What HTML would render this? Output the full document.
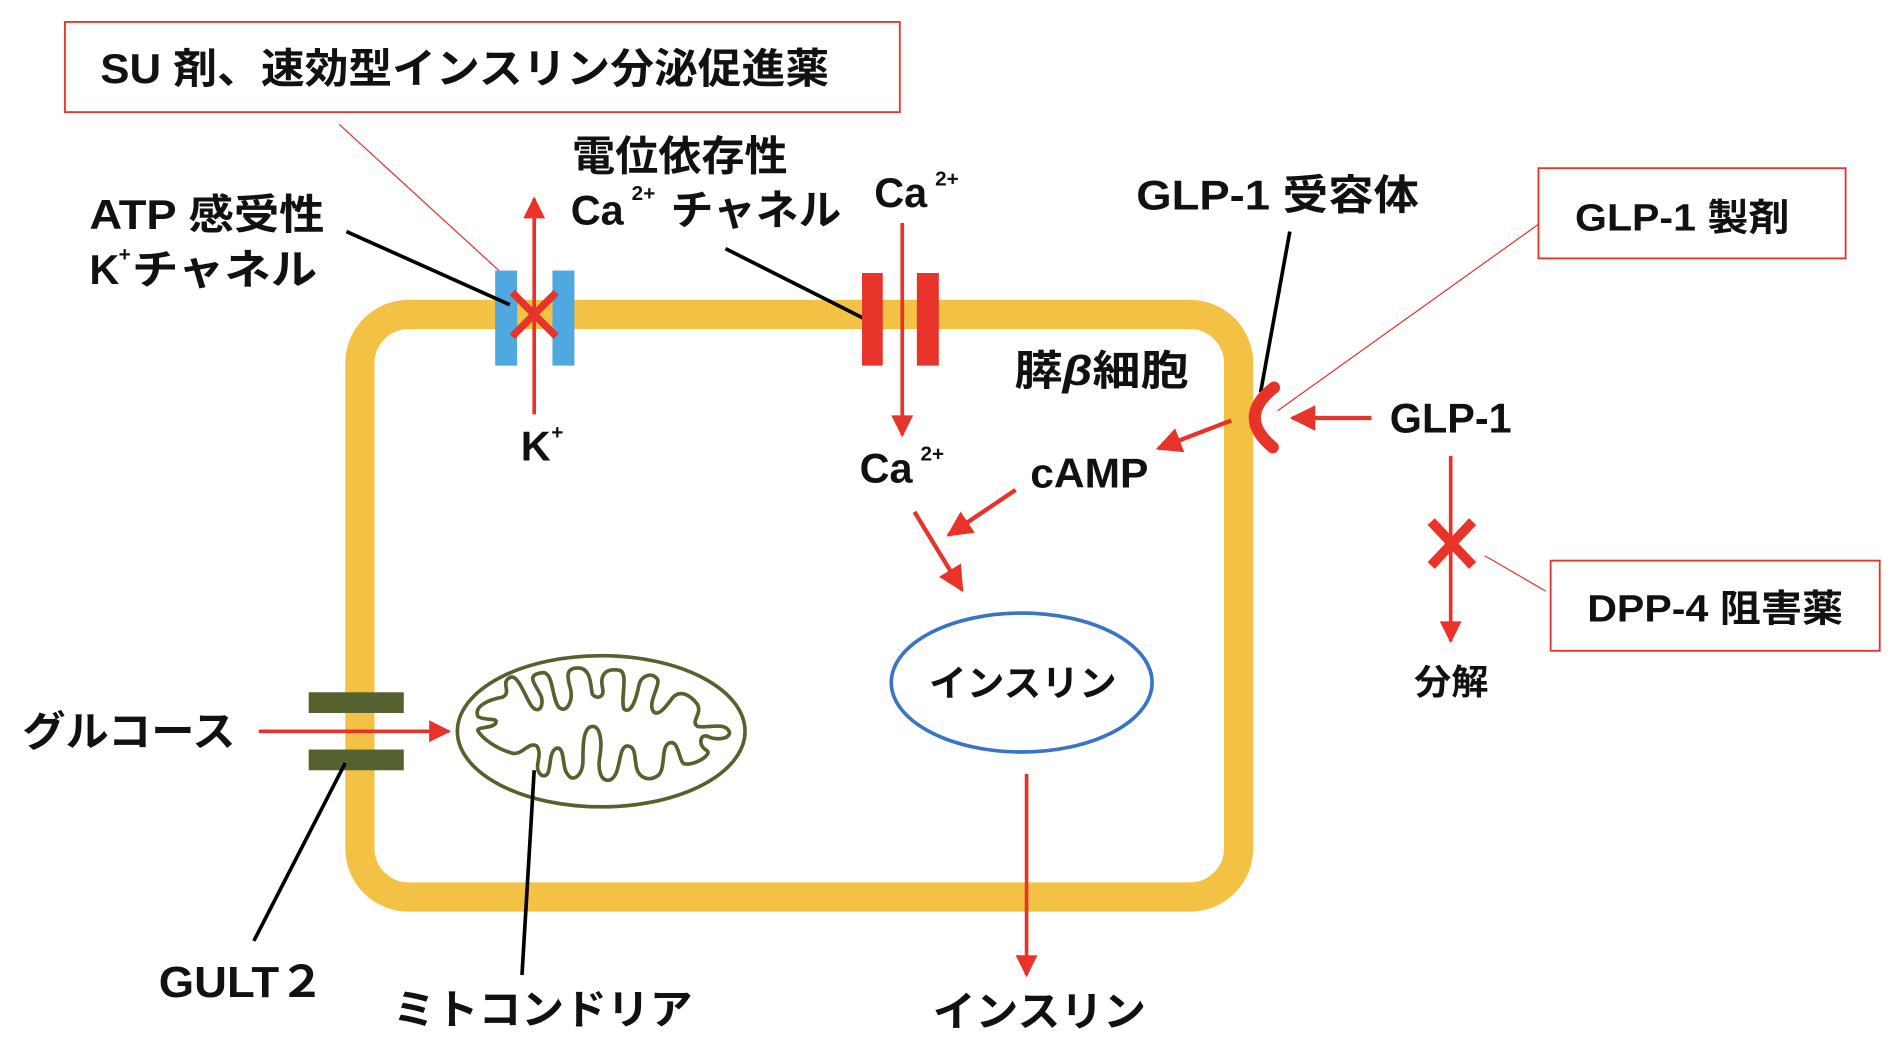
<!DOCTYPE html>
<html><head><meta charset="utf-8"><style>
html,body{margin:0;padding:0;background:#fff;}
svg{display:block;}
text{font-family:"Liberation Sans","Noto Sans CJK JP",sans-serif;font-weight:bold;fill:#111;}
</style></head><body>
<svg width="1902" height="1064" viewBox="0 0 1560 873" xmlns="http://www.w3.org/2000/svg">
<defs>
<marker id="ah" viewBox="0 0 10 10" refX="9" refY="5" markerWidth="7.5" markerHeight="6" orient="auto" markerUnits="strokeWidth">
<path d="M0,0 L10,5 L0,10 z" fill="#E8332A"/></marker>
</defs>
<!-- cell -->
<rect x="295" y="258" width="721" height="478" rx="40" fill="none" stroke="#F3C143" stroke-width="24"/>
<!-- SU box -->
<rect x="53" y="18" width="685" height="74" fill="none" stroke="#E8332A" stroke-width="1.5"/>
<text x="82" y="68" font-size="34" textLength="598" lengthAdjust="spacingAndGlyphs">SU 剤、速効型インスリン分泌促進薬</text>
<line x1="278" y1="102" x2="420" y2="232" stroke="#E8332A" stroke-width="1"/>
<!-- K channel -->
<rect x="406" y="222" width="18" height="78" fill="#4FA8E0"/>
<rect x="453" y="222" width="18" height="78" fill="#4FA8E0"/>
<line x1="438" y1="340" x2="438" y2="163" stroke="#E8332A" stroke-width="3" marker-end="url(#ah)"/>
<line x1="420" y1="240" x2="456" y2="276" stroke="#E8332A" stroke-width="6"/>
<line x1="456" y1="240" x2="420" y2="276" stroke="#E8332A" stroke-width="6"/>
<line x1="284" y1="190" x2="418" y2="250" stroke="#000" stroke-width="3"/>
<text x="73" y="188" font-size="34" textLength="193" lengthAdjust="spacingAndGlyphs">ATP 感受性</text>
<text x="73" y="233" font-size="34">K</text><text x="97" y="214" font-size="17">+</text><text x="108" y="233" font-size="34" textLength="152" lengthAdjust="spacingAndGlyphs">チャネル</text>
<text x="427" y="378" font-size="34">K</text><text x="452" y="360" font-size="17">+</text>
<!-- Ca channel -->
<text x="469" y="140" font-size="34" textLength="177" lengthAdjust="spacingAndGlyphs">電位依存性</text>
<text x="468" y="184" font-size="34">Ca</text><text x="518" y="164" font-size="17">2+</text><text x="550" y="184" font-size="34" textLength="140" lengthAdjust="spacingAndGlyphs">チャネル</text>
<line x1="595" y1="204" x2="710" y2="262" stroke="#000" stroke-width="3"/>
<rect x="707" y="224" width="17" height="76" fill="#E8332A"/>
<rect x="752" y="224" width="18" height="76" fill="#E8332A"/>
<line x1="740" y1="183" x2="740" y2="357" stroke="#E8332A" stroke-width="3" marker-end="url(#ah)"/>
<text x="717" y="170" font-size="34">Ca</text><text x="767" y="152" font-size="17">2+</text>
<text x="705" y="396" font-size="34">Ca</text><text x="755" y="378" font-size="17">2+</text>
<text x="832" y="316" font-size="34" textLength="143" lengthAdjust="spacingAndGlyphs">膵<tspan font-style="italic">β</tspan>細胞</text>
<!-- GLP-1 receptor -->
<text x="932" y="172" font-size="34" textLength="232" lengthAdjust="spacingAndGlyphs">GLP-1 受容体</text>
<line x1="1058" y1="190" x2="1034" y2="322" stroke="#000" stroke-width="3"/>
<path d="M1045,318 Q1014,342 1044,367" fill="none" stroke="#E8332A" stroke-width="10" stroke-linecap="round"/>
<rect x="1262" y="138" width="252" height="74" fill="none" stroke="#E8332A" stroke-width="1.5"/>
<text x="1292" y="189" font-size="31" textLength="176" lengthAdjust="spacingAndGlyphs">GLP-1 製剤</text>
<line x1="1262" y1="184" x2="1048" y2="337" stroke="#E8332A" stroke-width="1"/>
<line x1="1125" y1="343" x2="1060" y2="343" stroke="#E8332A" stroke-width="3.5" marker-end="url(#ah)"/>
<text x="1140" y="355" font-size="34" textLength="100" lengthAdjust="spacingAndGlyphs">GLP-1</text>
<line x1="1010" y1="345" x2="950" y2="368" stroke="#E8332A" stroke-width="3.5" marker-end="url(#ah)"/>
<text x="845" y="400" font-size="34" textLength="97" lengthAdjust="spacingAndGlyphs">cAMP</text>
<line x1="833" y1="402" x2="778" y2="439" stroke="#E8332A" stroke-width="3.5" marker-end="url(#ah)"/>
<line x1="750" y1="420" x2="789" y2="484" stroke="#E8332A" stroke-width="3.5" marker-end="url(#ah)"/>
<!-- DPP4 -->
<line x1="1190" y1="374" x2="1190" y2="526" stroke="#E8332A" stroke-width="3" marker-end="url(#ah)"/>
<line x1="1174" y1="428" x2="1208" y2="464" stroke="#E8332A" stroke-width="8"/>
<line x1="1208" y1="428" x2="1174" y2="464" stroke="#E8332A" stroke-width="8"/>
<line x1="1218" y1="456" x2="1268" y2="485" stroke="#E8332A" stroke-width="1"/>
<rect x="1272" y="460" width="270" height="74" fill="none" stroke="#E8332A" stroke-width="1.5"/>
<text x="1302" y="510" font-size="31" textLength="210" lengthAdjust="spacingAndGlyphs">DPP-4 阻害薬</text>
<text x="1160" y="570" font-size="29" textLength="61" lengthAdjust="spacingAndGlyphs">分解</text>
<!-- insulin -->
<ellipse cx="838" cy="560" rx="107" ry="57" fill="none" stroke="#3A74C4" stroke-width="3"/>
<text x="762" y="571" font-size="30" textLength="154" lengthAdjust="spacingAndGlyphs">インスリン</text>
<line x1="842" y1="635" x2="842" y2="800" stroke="#E8332A" stroke-width="3" marker-end="url(#ah)"/>
<text x="765" y="842" font-size="34" textLength="175" lengthAdjust="spacingAndGlyphs">インスリン</text>
<!-- glucose -->
<rect x="253" y="568" width="78" height="17" fill="#556230"/>
<rect x="253" y="615" width="78" height="17" fill="#556230"/>
<text x="18" y="612" font-size="34" textLength="175" lengthAdjust="spacingAndGlyphs">グルコース</text>
<line x1="212" y1="600" x2="368" y2="600" stroke="#E8332A" stroke-width="3" marker-end="url(#ah)"/>
<line x1="283" y1="626" x2="208" y2="772" stroke="#000" stroke-width="3"/>
<text x="130" y="818" font-size="36" textLength="136" lengthAdjust="spacingAndGlyphs">GULT２</text>
<!-- mitochondria -->
<ellipse cx="493" cy="600" rx="118" ry="62" fill="none" stroke="#556230" stroke-width="3"/>
<path d="M392,588 C388,580 400,574 412,572 C420,568 410,560 418,556 C424,552 430,570 435,578 C440,586 446,582 444,572 C440,562 430,554 444,552 C454,550 452,572 458,580 C464,586 470,576 468,566 C466,558 462,548 474,548 C486,548 484,566 486,570 C490,574 496,572 494,564 C492,554 496,548 508,550 C516,552 508,576 512,582 C518,586 522,572 524,562 C526,554 534,552 538,556 C544,560 530,576 536,584 C540,588 546,580 552,572 C558,566 566,570 572,578 C576,586 566,592 572,596 C580,598 594,592 598,600 C600,606 588,608 580,604 C574,602 572,612 580,616 C584,620 566,630 560,626 C556,620 556,606 548,610 C542,614 546,630 540,636 C532,642 524,638 522,630 C520,622 522,612 514,612 C506,614 510,636 500,640 C492,642 490,630 492,620 C494,608 492,596 486,596 C478,596 478,612 478,624 C478,636 470,642 466,636 C460,630 464,612 456,614 C448,618 454,640 444,636 C436,630 446,620 440,612 C434,608 428,620 420,618 C406,614 396,606 392,600 C390,596 402,598 406,594 C410,588 398,592 392,588 Z" fill="none" stroke="#556230" stroke-width="3"/>
<line x1="438" y1="632" x2="428" y2="800" stroke="#000" stroke-width="3"/>
<text x="322" y="840" font-size="34" textLength="246" lengthAdjust="spacingAndGlyphs">ミトコンドリア</text>
</svg>
</body></html>
